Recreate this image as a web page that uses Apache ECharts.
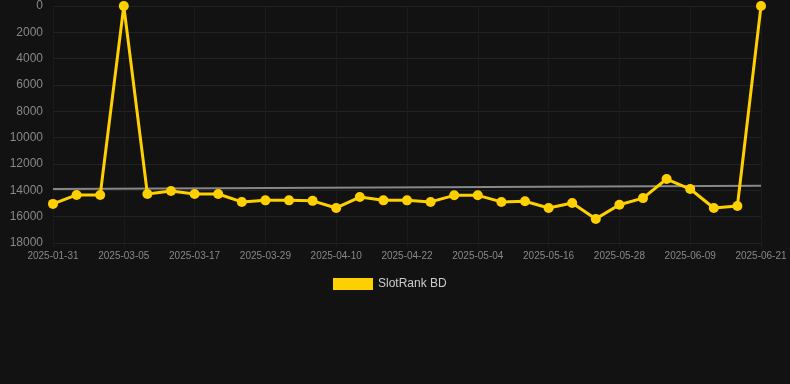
<!DOCTYPE html>
<html>
<head>
<meta charset="utf-8">
<script src="https://cdn.jsdelivr.net/npm/echarts@6/dist/echarts.min.js"></script>
<style>
html,body{margin:0;padding:0;background:#121212;}
#c{width:790px;height:384px;}
</style>
</head>
<body>
<div id="c"></div>
<script>
var categories = ["2025-01-31","2025-02-11","2025-02-22","2025-03-05","2025-03-09","2025-03-13","2025-03-17","2025-03-21","2025-03-25","2025-03-29","2025-04-02","2025-04-06","2025-04-10","2025-04-14","2025-04-18","2025-04-22","2025-04-26","2025-04-30","2025-05-04","2025-05-08","2025-05-12","2025-05-16","2025-05-20","2025-05-24","2025-05-28","2025-06-01","2025-06-05","2025-06-09","2025-06-13","2025-06-17","2025-06-21"];
var rankValues = [15030,14350,14350,0,14280,14050,14280,14280,14880,14760,14760,14800,15340,14510,14760,14760,14880,14380,14380,14880,14830,15340,14960,16170,15100,14590,13140,13900,15340,15190,0];
var trendValues = [13900,13650];
var yTicks = [0,2000,4000,6000,8000,10000,12000,14000,16000,18000];
var seriesName = "SlotRank BD";

var chart = echarts.init(document.getElementById('c'));
chart.setOption({
  backgroundColor: '#121212',
  animation: false,
  grid: {left: 53, right: 29, top: 6, bottom: 141, containLabel: false},
  legend: {
    data: [seriesName],
    top: 273,
    left: 328,
    itemWidth: 40,
    itemHeight: 12,
    icon: 'rect',
    textStyle: {color: '#cccccc', fontSize: 12, fontFamily: 'Liberation Sans, Arial, sans-serif'}
  },
  xAxis: {
    type: 'category',
    data: categories,
    boundaryGap: false,
    axisLine: {show: true, onZero: false, lineStyle: {color: '#222222'}},
    axisTick: {show: true, interval: 2, length: 4, lineStyle: {color: '#1c1c1c'}},
    axisLabel: {interval: 2, color: '#888888', fontSize: 10, margin: 8, fontFamily: 'Liberation Sans, Arial, sans-serif'},
    splitLine: {show: true, interval: 2, lineStyle: {color: '#1b1b1b'}}
  },
  yAxis: {
    type: 'value',
    inverse: true,
    min: yTicks[0],
    max: yTicks[yTicks.length - 1],
    interval: 2000,
    axisLine: {show: false},
    axisTick: {show: false},
    axisLabel: {color: '#888888', fontSize: 12, margin: 10, formatter: function (v) { return String(v); }, fontFamily: 'Liberation Sans, Arial, sans-serif'},
    splitLine: {show: true, lineStyle: {color: '#222222'}}
  },
  series: [
    {
      name: seriesName,
      type: 'line',
      data: rankValues,
      color: '#ffd000',
      symbol: 'circle',
      symbolSize: 10,
      lineStyle: {width: 3, color: '#ffd000'},
      itemStyle: {color: '#ffd000'},
      z: 3
    },
    {
      name: 'trend',
      type: 'line',
      data: [[0, trendValues[0]], [categories.length - 1, trendValues[1]]],
      symbol: 'none',
      lineStyle: {width: 2, color: '#888888'},
      z: 2
    }
  ]
});
</script>
</body>
</html>
